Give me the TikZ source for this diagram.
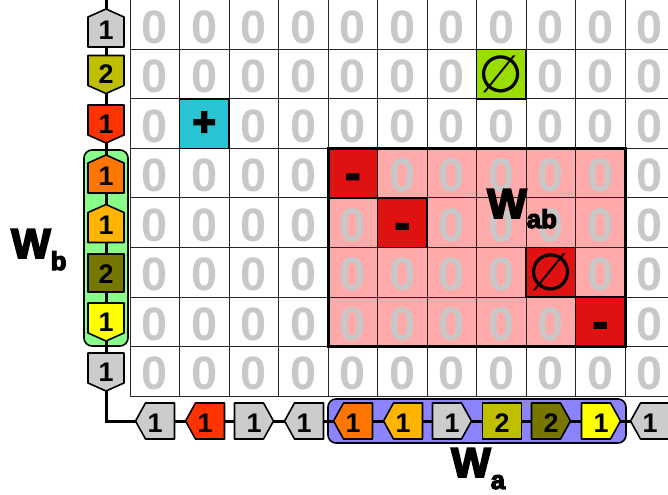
\documentclass[tikz,border=0pt]{standalone}
\usepackage{fontspec}
\setmainfont{Liberation Sans}
\newfontfamily\heavyfont[FakeBold=4.5]{Liberation Sans}
\newfontfamily\symfont{DejaVu Sans}
\usetikzlibrary{calc}
\definecolor{gGray}{HTML}{CCCCCC}
\definecolor{gOlive}{HTML}{BFBF00}
\definecolor{gDark}{HTML}{777700}
\definecolor{gRed}{HTML}{FF3300}
\definecolor{gOrange}{HTML}{FF7700}
\definecolor{gAmber}{HTML}{FFB400}
\definecolor{gYellow}{HTML}{FFFF00}
\definecolor{cCyan}{HTML}{28C4D4}
\definecolor{cGreen}{HTML}{99DD00}
\definecolor{cRed}{HTML}{E01111}
\definecolor{cPink}{HTML}{FFAAAA}
\definecolor{boxBlue}{HTML}{8C84FF}
\definecolor{boxGreen}{HTML}{88FF88}
\definecolor{zeroGray}{HTML}{C8C8C8}
\newcommand\vup[4]{%
  \draw[gene, fill=#3] ($(#2)+(-18,19)$) -- ++(36,0) -- ++(0,-30) -- ++(-18,-8) -- ++(-18,8) -- cycle;
  \node[glabel] (#1) at ($(#2)+(0,2)$) {#4};}
\newcommand\vdown[4]{%
  \draw[gene, fill=#3] ($(#2)+(-18,-19)$) -- ++(36,0) -- ++(0,30) -- ++(-18,8) -- ++(-18,-8) -- cycle;
  \node[glabel] (#1) at ($(#2)+(0,0)$) {#4};}
\newcommand\vnone[4]{%
  \draw[gene, fill=#3] ($(#2)+(-18,-19)$) rectangle ($(#2)+(18,19)$);
  \node[glabel] (#1) at ($(#2)+(0,1)$) {#4};}
\newcommand\hleft[4]{%
  \draw[gene, fill=#3] ($(#2)+(19.5,-18)$) -- ++(0,36) -- ++(-29,0) -- ++(-10,-18) -- ++(10,-18) -- cycle;
  \node[glabel] (#1) at ($(#2)+(0,2)$) {#4};}
\newcommand\hright[4]{%
  \draw[gene, fill=#3] ($(#2)+(-19.5,-18)$) -- ++(0,36) -- ++(29,0) -- ++(10,-18) -- ++(-10,-18) -- cycle;
  \node[glabel] (#1) at ($(#2)+(0,2)$) {#4};}
\newcommand\hnone[4]{%
  \draw[gene, fill=#3] ($(#2)+(-19.5,-18)$) rectangle ($(#2)+(19.5,18)$);
  \node[glabel] (#1) at ($(#2)+(0,2)$) {#4};}
\newcommand\minus{\raisebox{-15bp}[0pt][0pt]{\heavyfont\bfseries\fontsize{44}{44}\selectfont -}}
\newcommand\empt{\raisebox{-2bp}{\symfont\fontsize{52}{52}\selectfont ∅}}
\begin{document}
\begin{tikzpicture}[x=1bp,y=-1bp,
  gene/.style={draw=black, line width=1.6bp, line join=round},
  glabel/.style={inner sep=0pt, font=\bfseries\fontsize{27}{27}\selectfont},
  zero/.style={inner sep=0pt, text=zeroGray, font=\bfseries\fontsize{47}{47}\selectfont},
  cell/.style={draw=black, line width=1.5bp, minimum width=49.5bp, minimum height=49.5bp, inner sep=0pt},
  grid line/.style={draw=black!85, line width=1bp},
  backbone/.style={draw=black, line width=3bp},
  wbox/.style={draw=black, line width=1.6bp, rounded corners=8bp, inner sep=0pt},
  wlabel/.style={inner sep=0pt, anchor=base west, font=\heavyfont\bfseries\fontsize{42}{42}\selectfont}]
\useasboundingbox (0,0) rectangle (668,495);
\clip (0,0) rectangle (668,495);
\fill[white] (0,0) rectangle (668,495);
% pink sub-matrix background
\fill[cPink] (328,148.5) rectangle (625,346.5);
% grid
\foreach \c in {0,...,11} \draw[grid line] ({130+49.5*\c},0) -- ({130+49.5*\c},396);
\foreach \r in {1,...,8} \draw[grid line] (130,{49.5*\r}) -- (680,{49.5*\r});
% zeros
\foreach \r in {0,...,7}{\foreach \c in {0,...,10}{
  \pgfmathtruncatemacro\k{\r*100+\c}
  \ifnum\k=107 \else\ifnum\k=201 \else\ifnum\k=304 \else\ifnum\k=405 \else\ifnum\k=508 \else\ifnum\k=609 \else
    \node[zero] (z-\r-\c) at ({154.75+49.5*\c},{27.25+49.5*\r}) {0};
  \fi\fi\fi\fi\fi\fi
}}
% special cells
\node[cell, fill=cGreen] (s-1-7) at (501.25,74.25) {\empt};
\node[cell, fill=cCyan] (s-2-1) at (204.25,123.75) {\heavyfont\bfseries\fontsize{40}{40}\selectfont +};
\node[cell, fill=cRed] (s-3-4) at (352.75,173.25) {\minus};
\node[cell, fill=cRed] (s-4-5) at (402.25,222.75) {\minus};
\node[cell, fill=cRed] (s-5-8) at (550.75,272.25) {\empt};
\node[cell, fill=cRed] (s-6-9) at (600.25,321.75) {\minus};
% sub-matrix frame
\draw[line width=3bp] (328,148.5) rectangle (625,346.5);
\node[wlabel] (wab) at (487,218) {W\raisebox{-10bp}{\fontsize{26}{26}\selectfont ab}};
% boxes
\node[wbox, fill=boxGreen, minimum width=44bp, minimum height=196bp] (wbbox) at (106,248) {};
\node[wbox, fill=boxBlue, minimum width=298bp, minimum height=44bp] (wabox) at (477,421) {};
% backbone
\coordinate (btop) at (106,-2);
\coordinate (bcorner) at (106,421.5);
\coordinate (bend) at (680,421.5);
\draw[backbone] (btop) -- (bcorner) -- (bend);
% vertical genes
\vup{v0}{106,28}{gGray}{1}
\vdown{v1}{106,74.5}{gOlive}{2}
\vdown{v2}{106,124}{gRed}{1}
\vup{v3}{106,174}{gOrange}{1}
\vup{v4}{106,223.5}{gAmber}{1}
\vnone{v5}{106,273}{gDark}{2}
\vdown{v6}{106,322}{gYellow}{1}
\vdown{v7}{106,372}{gGray}{1}
% horizontal genes
\hleft{h0}{155,421}{gGray}{1}
\hleft{h1}{205,421}{gRed}{1}
\hright{h2}{254,421}{gGray}{1}
\hleft{h3}{304,421}{gGray}{1}
\hleft{h4}{353,421}{gOrange}{1}
\hleft{h5}{403,421}{gAmber}{1}
\hright{h6}{452,421}{gGray}{1}
\hnone{h7}{502,421}{gOlive}{2}
\hright{h8}{551,421}{gDark}{2}
\hright{h9}{601,421}{gYellow}{1}
\hleft{h10}{650,421}{gGray}{1}
% labels
\node[wlabel] (wb) at (11,258) {W\raisebox{-12bp}{\fontsize{26}{26}\selectfont b}};
\node[wlabel] (wa) at (451,477) {W\raisebox{-12bp}{\fontsize{26}{26}\selectfont a}};
\end{tikzpicture}
\end{document}
